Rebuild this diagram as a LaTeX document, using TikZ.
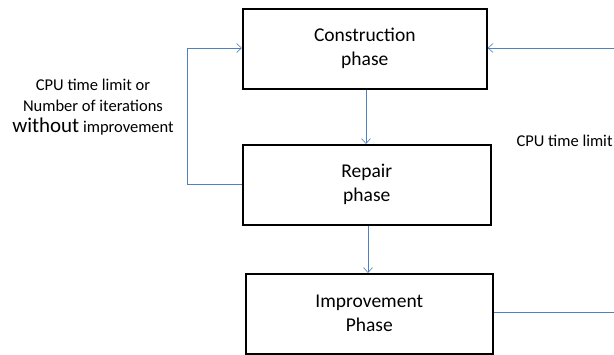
\documentclass[tikz,border=0pt]{standalone}
\usepackage{fontspec}
\setmainfont{Carlito}
\usetikzlibrary{arrows.meta}
\definecolor{linkblue}{RGB}{79,129,189}
\begin{document}
\begin{tikzpicture}[x=1pt,y=-1pt,
  phasebox/.style={draw=black,line width=1.6pt,inner sep=0pt,anchor=north west,align=center,font=\fontsize{19.5}{24}\selectfont},
  link/.style={draw=linkblue,line width=0.8pt},
  tip/.style={-{Straight Barb[length=5pt,width=9pt,line width=0.6pt]}},
  note/.style={align=center,font=\fontsize{16.5}{21}\selectfont}]
\useasboundingbox (0,0) rectangle (614,354);
\node[phasebox,minimum width=244pt,minimum height=80pt] (c) at (242,8) {Construction\\phase};
\node[phasebox,minimum width=248pt,minimum height=80pt] (r) at (242,144) {Repair\\phase};
\node[phasebox,minimum width=247pt,minimum height=80pt] (i) at (245,273) {Improvement\\Phase};
\draw[link,tip] (c.south -| 366,0) -- (r.north -| 366,0);
\draw[link,tip] (r.south -| 368,0) -- (i.north -| 368,0);
\coordinate (lb) at (187,184);
\coordinate (lt) at (187,48);
\draw[link,tip] (r.west |- lb) -- (lb) -- (lt) -- (c.west |- lt);
\coordinate (rb) at (614,312);
\coordinate (rt) at (614,48);
\draw[link] (i.east |- rb) -- (rb);
\draw[link,tip] (rt) -- (c.east |- rt);
\node[note] (lnote) at (93,107) {CPU time limit or\\Number of iterations\\{\fontsize{21}{21}\selectfont without} improvement};
\node[note,anchor=west] (rnote) at (513,141) {CPU time limit};
\end{tikzpicture}
\end{document}
